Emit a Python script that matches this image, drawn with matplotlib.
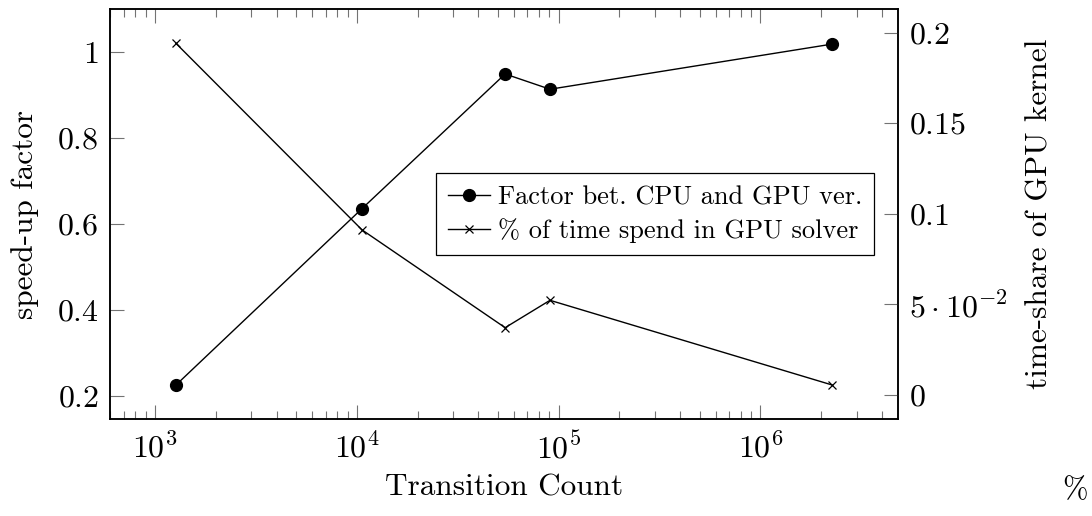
import matplotlib
matplotlib.use('Agg')
import matplotlib.pyplot as plt
from matplotlib.ticker import FixedLocator, LogLocator, NullFormatter

# data
transitions = [1270, 10600, 54300, 90600, 2260000]
speedup = [0.2256, 0.636, 0.9495, 0.914, 1.019]
time_share = [0.194, 0.0911, 0.0371, 0.0522, 0.0055]

left_ticks = [0.2, 0.4, 0.6, 0.8, 1.0]
left_labels = ['$0.2$', '$0.4$', '$0.6$', '$0.8$', '$1$']
right_ticks = [0.0, 0.05, 0.1, 0.15, 0.2]
right_labels = ['$0$', r'$5\cdot10^{-2}$', '$0.1$', '$0.15$', '$0.2$']

plt.rcParams['font.family'] = ['cmr10', 'DejaVu Sans']
plt.rcParams['mathtext.fontset'] = 'cm'
plt.rcParams['axes.formatter.use_mathtext'] = True
plt.rcParams['font.size'] = 22.5

fig = plt.figure(figsize=(10.92, 5.16), dpi=100)
ax = fig.add_axes([0.1007, 0.188, 0.7216, 0.7936])
ax2 = ax.twinx()

l1, = ax.plot(transitions, speedup, color='black', lw=1.0, marker='o',
              markersize=8.5, label='Factor bet. CPU and GPU ver.')
l2, = ax2.plot(transitions, time_share, color='black', lw=1.0, marker='x',
               markersize=6, markeredgewidth=0.9, label='% of time spend in GPU solver')

ax.set_xscale('log')
ax.set_xlim(598, 4.8e6)
ax.set_ylim(0.1465, 1.0996)
ax2.set_ylim(-0.0133, 0.2127)

ax.xaxis.set_major_locator(LogLocator(base=10))
ax.xaxis.set_minor_locator(LogLocator(base=10, subs=range(2, 10)))
ax.xaxis.set_minor_formatter(NullFormatter())

ax.yaxis.set_major_locator(FixedLocator(left_ticks))
ax.set_yticklabels(left_labels)
ax2.yaxis.set_major_locator(FixedLocator(right_ticks))
ax2.set_yticklabels(right_labels)

tick_col = '0.45'
ax.tick_params(axis='x', which='major', direction='in', top=True, length=10,
               width=0.8, color=tick_col, pad=9, labelsize=23)
ax.tick_params(axis='x', which='minor', direction='in', top=True, length=6,
               width=0.8, color=tick_col)
ax.tick_params(axis='y', which='major', direction='in', right=False, length=10,
               width=0.8, color=tick_col, pad=8, labelsize=23)
ax2.tick_params(axis='y', which='major', direction='in', length=10,
                width=0.8, color=tick_col, pad=8, labelsize=23)

for a in (ax, ax2):
    for s in a.spines.values():
        s.set_linewidth(1.1)

ax.set_xlabel('Transition Count', va='center')
ax.xaxis.set_label_coords(0.5, -0.168)
ax.set_ylabel('speed-up factor', va='center')
ax.yaxis.set_label_coords(-0.108, 0.5)
ax2.set_ylabel('time-share of GPU kernel', va='center', rotation=90)
ax2.yaxis.set_label_coords(1.18, 0.5)

leg = ax.legend(handles=[l1, l2], loc='center right', bbox_to_anchor=(0.97, 0.5),
                fontsize=19, frameon=True, fancybox=False, edgecolor='black',
                framealpha=1, handlelength=1.6, handletextpad=0.3,
                borderpad=0.45, labelspacing=0.35, borderaxespad=0)
leg.get_frame().set_linewidth(0.9)

fig.text(0.984, 0.05, '%', fontsize=22, ha='center', va='center')

fig.savefig('out.png', dpi=100)
